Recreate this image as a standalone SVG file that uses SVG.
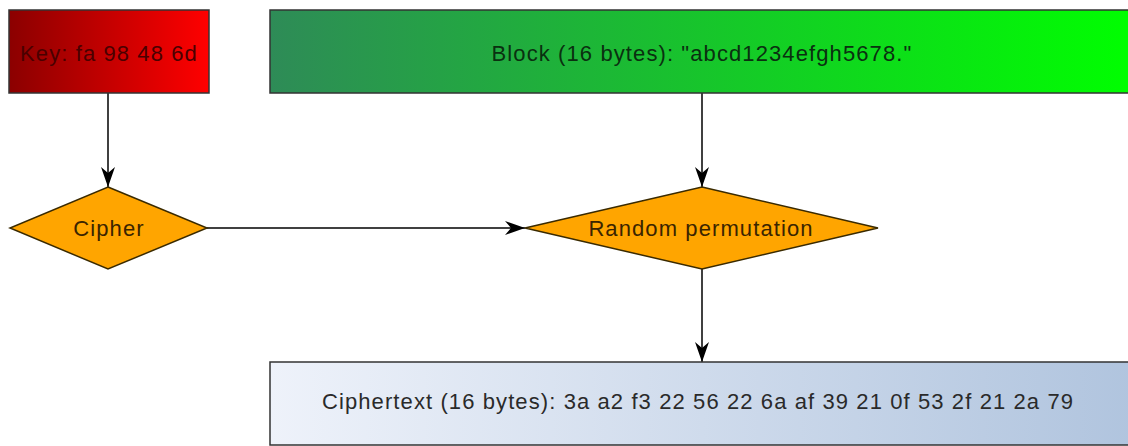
<svg xmlns="http://www.w3.org/2000/svg" width="1128" height="446" viewBox="0 0 1128 446">
<defs>
<linearGradient id="gKey" x1="0" y1="0" x2="1" y2="0"><stop offset="0" stop-color="#8b0000"/><stop offset="1" stop-color="#ff0000"/></linearGradient>
<linearGradient id="gBlock" x1="0" y1="0" x2="1" y2="0"><stop offset="0" stop-color="#2e8b57"/><stop offset="1" stop-color="#00ff00"/></linearGradient>
<linearGradient id="gCipher" x1="0" y1="0" x2="1" y2="0"><stop offset="0" stop-color="#eef2fa"/><stop offset="1" stop-color="#b0c4de"/></linearGradient>
<marker id="arr" viewBox="0 0 20 14" refX="20" refY="7" markerWidth="20" markerHeight="14" markerUnits="userSpaceOnUse" orient="auto">
<path d="M0,0 L20,7 L0,14 L6,7 Z" fill="#000"/>
</marker>
<style>
.box{stroke:#333;stroke-width:1.5}
.dia{fill:#ffa500;stroke:#3a2a00;stroke-width:1.5}
.lbl{font-family:"Liberation Sans",Arial,sans-serif;font-size:22px;letter-spacing:1.1px;text-anchor:middle}
.edge{stroke:#000;stroke-width:1.5;fill:none;marker-end:url(#arr)}
</style>
</defs>
<rect width="1128" height="446" fill="#fff"/>
<g id="connectors">
<line class="edge" x1="108" y1="93" x2="108" y2="187"/>
<line class="edge" x1="702" y1="93" x2="702" y2="187"/>
<line class="edge" x1="207" y1="228" x2="525" y2="228"/>
<line class="edge" x1="702" y1="269" x2="702" y2="362"/>
</g>
<g id="key">
<rect class="box" x="9" y="10" width="200" height="83" fill="url(#gKey)"/>
<text class="lbl" x="109" y="61" fill="#4a0000">Key: fa 98 48 6d</text>
</g>
<g id="block">
<rect class="box" x="270" y="10" width="866" height="83" fill="url(#gBlock)"/>
<text class="lbl" x="702" y="61" fill="#0a3010">Block (16 bytes): "abcd1234efgh5678."</text>
</g>
<g id="cipher">
<polygon class="dia" points="108,187 207,228 108,269 10,228"/>
<text class="lbl" x="109" y="236" fill="#3a2400">Cipher</text>
</g>
<g id="random">
<polygon class="dia" points="702,187 878,228 702,269 525,228"/>
<text class="lbl" x="701" y="236" fill="#3a2400">Random permutation</text>
</g>
<g id="ciphertext">
<rect class="box" x="270" y="362" width="866" height="83" fill="url(#gCipher)"/>
<text class="lbl" x="698" y="409" fill="#2a2a2a">Ciphertext (16 bytes): 3a a2 f3 22 56 22 6a af 39 21 0f 53 2f 21 2a 79</text>
</g>
</svg>
